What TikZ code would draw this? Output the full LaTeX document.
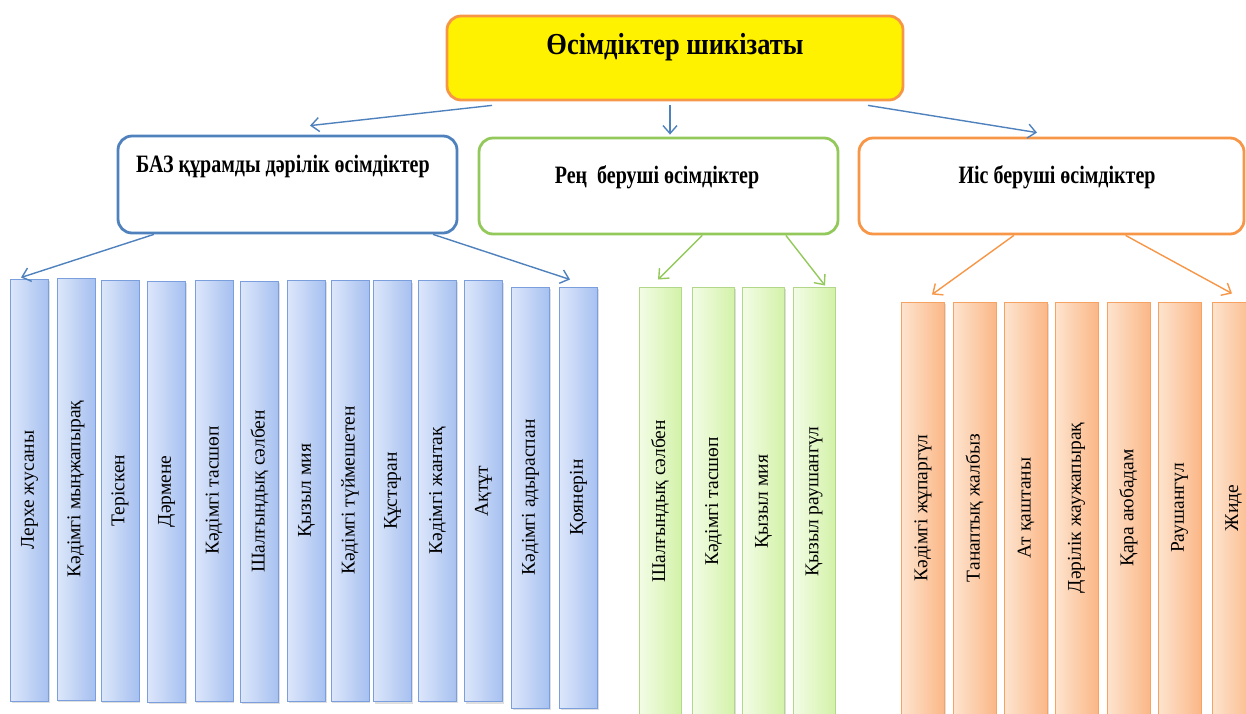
\documentclass[tikz,border=0pt]{standalone}
\usepackage{fontspec}
\setmainfont{Liberation Serif}
\usetikzlibrary{calc,arrows.meta,shadows}

\definecolor{lineblue}{HTML}{4F81BD}
\definecolor{linegreen}{HTML}{92C95A}
\definecolor{lineorange}{HTML}{F79646}
\definecolor{colblueL}{HTML}{DDE7FA}
\definecolor{colblueR}{HTML}{A6C0F0}
\definecolor{colblueD}{HTML}{7B9FDC}
\definecolor{colgreenL}{HTML}{F3FCE6}
\definecolor{colgreenR}{HTML}{D3F2A8}
\definecolor{colgreenD}{HTML}{B2D68A}
\definecolor{colorangeL}{HTML}{FDE4CF}
\definecolor{colorangeR}{HTML}{FBB787}
\definecolor{colorangeD}{HTML}{F5A262}

\tikzset{
  headbox/.style={draw, rounded corners=14pt, line width=2.8pt, fill=white},
  headtxt/.style={font=\bfseries\fontsize{20pt}{22pt}\selectfont, inner sep=0pt},
  plantcol/.style={draw, line width=1pt, inner sep=0pt,
    font=\fontsize{19.5pt}{20pt}\selectfont,
    drop shadow={shadow xshift=1.2pt, shadow yshift=-2pt, opacity=.25}},
  bluecol/.style={plantcol, draw=colblueD, left color=colblueL, right color=colblueR, minimum width=38pt},
  greencol/.style={plantcol, draw=colgreenD, left color=colgreenL, right color=colgreenR, minimum width=42pt},
  orangecol/.style={plantcol, draw=colorangeD, left color=colorangeL, right color=colorangeR, minimum width=43pt},
  link/.style={line width=1.4pt, -{Straight Barb[length=8pt, width=14pt]}},
}

\begin{document}
\begin{tikzpicture}[x=1pt, y=-1pt]
\useasboundingbox (0,0) rectangle (1246,713);

% top level
\node[headbox, draw=lineorange, fill=yellow, minimum width=456pt, minimum height=84pt] (top) at (675,58) {};
\node[headtxt, font=\bfseries\fontsize{26.5pt}{28pt}\selectfont] (toplbl) at (675,47) {\scalebox{1}[1.15]{Өсімдіктер шикізаты}};

% three groups
\node[headbox, draw=lineblue, minimum width=339pt, minimum height=97pt] (box1) at (287.5,184.5) {};
\node[headtxt] (box1lbl) at (283,166) {\scalebox{1}[1.25]{БАЗ құрамды дәрілік өсімдіктер}};
\node[headbox, draw=linegreen, minimum width=359pt, minimum height=96pt] (box2) at (658.5,186) {};
\node[headtxt] (box2lbl) at (657,177) {\scalebox{1}[1.25]{Рең~~беруші өсімдіктер}};
\node[headbox, draw=lineorange, minimum width=385pt, minimum height=96pt] (box3) at (1051.5,186) {};
\node[headtxt] (box3lbl) at (1057,177) {\scalebox{1}[1.25]{Иіс беруші өсімдіктер}};

% columns
\foreach \cx/\cy/\h/\lbl [count=\i] in {29.5/490/422/Лерхе жусаны, 76/489/422/Кәдімгі мыңжапырақ,
  120/490.5/421/Теріскен, 166.5/491.5/421/Дәрмене, 214/490.5/421/Кәдімгі тасшөп,
  259.5/491.5/421/Шалғындық сәлбен, 306.5/490.5/421/Қызыл мия, 350/490.5/421/Кәдімгі түймешетен,
  392.5/491/421/Құстаран, 437.5/490.5/421/Кәдімгі жантақ, 483.5/491/421/Ақтұт,
  530.5/497.5/421/Кәдімгі адыраспан, 578.5/497.5/421/Қоянерін}
  \node[bluecol, minimum height=\h pt] (b\i) at (\cx,\cy) {\rotatebox{90}{\lbl}};

\foreach \cx/\lbl [count=\i] in {660/Шалғындық сәлбен, 713.5/Кәдімгі тасшөп,
  763.5/Қызыл мия, 814/Қызыл раушангүл}
  \node[greencol, minimum height=429pt] (g\i) at (\cx,501.5) {\rotatebox{90}{\lbl}};

\foreach \cx/\lbl [count=\i] in {923/Кәдімгі жұпаргүл, 974.5/Танаптық жалбыз, 1026/Ат қаштаны,
  1076.5/Дәрілік жаужапырақ, 1128.5/Қара аюбадам, 1179.5/Раушангүл, 1233.5/Жиде}
  \node[orangecol, minimum height=412pt] (o\i) at (\cx,508) {\rotatebox{90}{\lbl}};

% arrows
\draw[link, lineblue] ($(top.south)+(-183,4)$) -- ($(box1.north)+(22.5,-9)$);
\draw[link, lineblue] ($(top.south)+(-5,4)$) -- ($(box2.north)+(11.5,-2)$);
\draw[link, lineblue] ($(top.south)+(193,4)$) -- ($(box3.north)+(-14.5,-4)$);
\draw[link, lineblue] ($(box1.south west)!.109!(box1.south east)$) -- ($(b1.north)+(-8.5,-1)$);
\draw[link, lineblue] ($(box1.south west)!.926!(box1.south east)$) -- ($(b13.north)+(-8.5,-7)$);
\draw[link, linegreen] ($(box2.south west)!.621!(box2.south east)$) -- ($(g1.north)+(-2,-7)$);
\draw[link, linegreen] ($(box2.south west)!.852!(box2.south east)$) -- ($(g4.north)+(11,-1)$);
\draw[link, lineorange] ($(box3.south west)!.403!(box3.south east)$) -- ($(o1.north)+(9,-7)$);
\draw[link, lineorange] ($(box3.south west)!.691!(box3.south east)$) -- ($(o7.north)+(-1.5,-8)$);
\end{tikzpicture}
\end{document}
